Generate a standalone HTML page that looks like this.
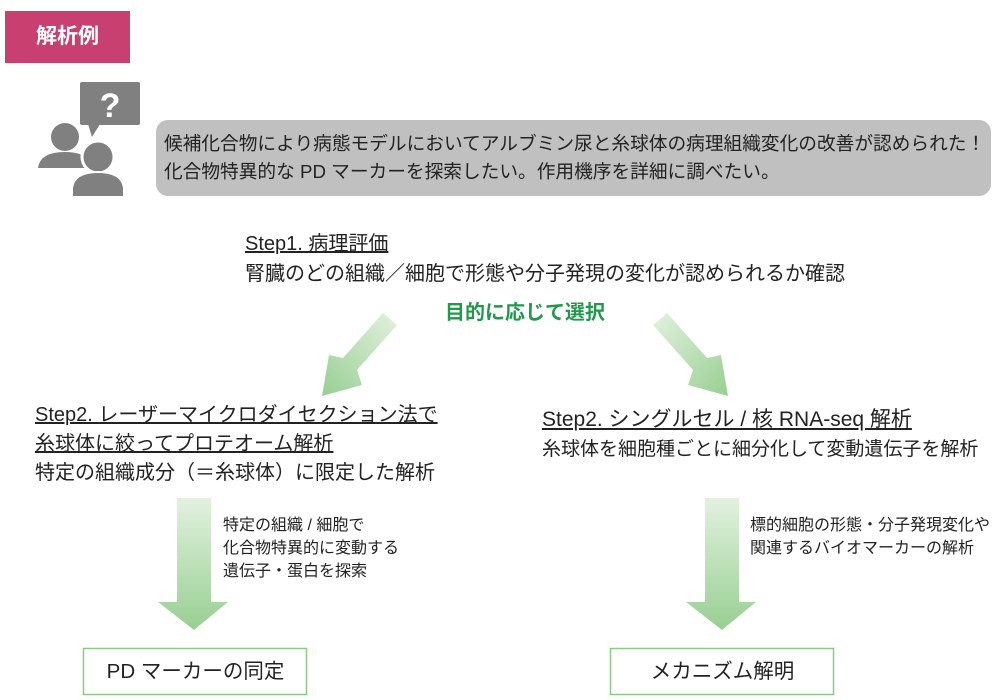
<!DOCTYPE html>
<html><head><meta charset="utf-8"><style>
body{margin:0;width:1000px;height:700px;background:#fff;position:relative;overflow:hidden;font-family:"Liberation Sans","Noto Sans CJK JP",sans-serif;color:#222}
.a{position:absolute;white-space:nowrap}
</style></head><body>
<div class="a" style="left:5px;top:11px;width:125px;height:52px;background:#c8406f;color:#fff;font-size:21px;line-height:52px;text-align:center;font-weight:bold">解析例</div>
<svg class="a" style="left:0;top:0" width="1000" height="700">
<defs>
<linearGradient id="gd" x1="0" y1="0" x2="0" y2="1"><stop offset="0" stop-color="#e2f1df"/><stop offset="1" stop-color="#98cf92"/></linearGradient>
<linearGradient id="gl" x1="1" y1="0" x2="0" y2="1"><stop offset="0" stop-color="#e2f1df"/><stop offset="1" stop-color="#98cf92"/></linearGradient>
<linearGradient id="gr" x1="0" y1="0" x2="1" y2="1"><stop offset="0" stop-color="#e2f1df"/><stop offset="1" stop-color="#98cf92"/></linearGradient>
</defs>
<rect x="80" y="82" width="60" height="43" rx="2" fill="#808080"/>
<polygon points="88,124 100,124 92,137" fill="#808080"/>
<text x="110" y="117" font-size="34" font-weight="bold" fill="#fff" text-anchor="middle" font-family="Liberation Sans">?</text>
<circle cx="65" cy="137" r="14" fill="#808080"/>
<path d="M38,168 Q40,152 65,152 Q82,152 88,160 L88,168 Z" fill="#808080"/>
<circle cx="98" cy="157" r="16" fill="#808080" stroke="#fff" stroke-width="3"/>
<path d="M72,197 L72,188 Q74,172 98,172 Q122,172 124,188 L124,197 Z" fill="#808080" stroke="#fff" stroke-width="2"/>
<rect x="156" y="120" width="835" height="76" rx="12" fill="#c0c0c0"/>
<polygon points="383,313 397,325 357,370 362,385 322,396 329,355 343,358" fill="url(#gl)"/>
<polygon points="667,313 653,325 693,370 688,385 728,396 721,355 707,358" fill="url(#gr)"/>
<polygon points="177,498 211,498 211,602 228,602 194,630 158,602 177,602" fill="url(#gd)"/>
<polygon points="705,498 739,498 739,602 756,602 722,630 686,602 705,602" fill="url(#gd)"/>
<rect x="83.5" y="648.5" width="223" height="46" fill="#fff" stroke="#8cc987" stroke-width="1.5"/>
<rect x="610.5" y="648.5" width="223" height="46" fill="#fff" stroke="#8cc987" stroke-width="1.5"/>
</svg>
<div class="a" style="left:164px;top:130px;font-size:18.7px;line-height:28px">候補化合物により病態モデルにおいてアルブミン尿と糸球体の病理組織変化の改善が認められた！<br>化合物特異的な PD マーカーを探索したい。作用機序を詳細に調べたい。</div>
<div class="a" style="left:245px;top:229px;font-size:20px;line-height:30px"><span style="text-decoration:underline">Step1. 病理評価</span><br>腎臓のどの組織／細胞で形態や分子発現の変化が認められるか確認</div>
<div class="a" style="left:445px;top:296px;font-size:20px;color:#1f9a4a;font-weight:bold">目的に応じて選択</div>
<div class="a" style="left:35px;top:401px;font-size:20px;line-height:29px"><span style="text-decoration:underline">Step2. レーザーマイクロダイセクション法で</span><br><span style="text-decoration:underline">糸球体に絞ってプロテオーム解析</span><br>特定の組織成分（＝糸球体）に限定した解析</div>
<div class="a" style="left:542px;top:405px;font-size:19px;line-height:29px"><span style="text-decoration:underline;font-size:21px">Step2. シングルセル / 核 RNA-seq 解析</span><br>糸球体を細胞種ごとに細分化して変動遺伝子を解析</div>
<div class="a" style="left:223px;top:514px;font-size:16px;line-height:23px">特定の組織 / 細胞で<br>化合物特異的に変動する<br>遺伝子・蛋白を探索</div>
<div class="a" style="left:750px;top:514px;font-size:16px;line-height:23px">標的細胞の形態・分子発現変化や<br>関連するバイオマーカーの解析</div>
<div class="a" style="left:84px;top:649px;width:223px;line-height:46px;text-align:center;font-size:20.5px">PD マーカーの同定</div>
<div class="a" style="left:611px;top:649px;width:223px;line-height:46px;text-align:center;font-size:20.5px">メカニズム解明</div>
</body></html>
